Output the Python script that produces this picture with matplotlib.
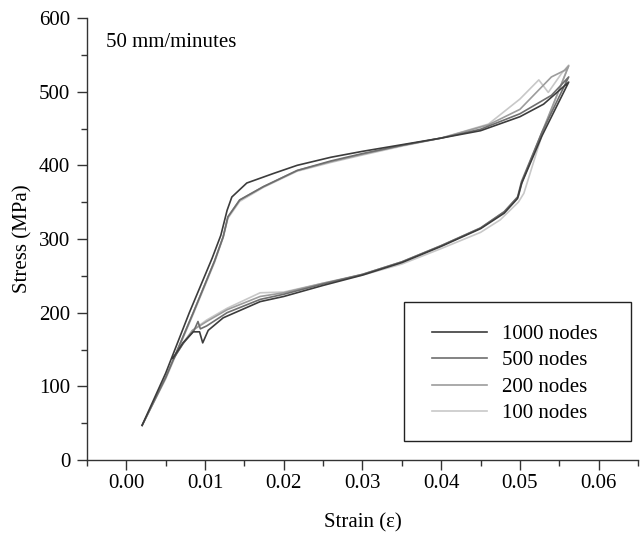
import matplotlib
matplotlib.use('Agg')
import matplotlib.pyplot as plt
from matplotlib.ticker import MultipleLocator, FormatStrFormatter
from matplotlib.patches import Rectangle

plt.rcParams['font.family'] = ['Liberation Serif', 'DejaVu Serif']

labels = ['1000 nodes', '500 nodes', '200 nodes', '100 nodes']
colors = ['#3c3c3c', '#6e6e6e', '#9c9c9c', '#c8c8c8']

# loading + unloading path for each mesh
strain_1000 = [0.0020, 0.0050, 0.0080, 0.0109, 0.0120, 0.0128, 0.0134, 0.0153, 0.0187, 0.0217,
               0.0260, 0.0300, 0.0350, 0.0400, 0.0450, 0.0500, 0.0530, 0.0562,
               0.0528, 0.0502, 0.0497, 0.0480, 0.0450, 0.0400, 0.0350, 0.0300, 0.0250, 0.0200,
               0.0170, 0.0123, 0.0104, 0.0097, 0.0093, 0.0085, 0.0072, 0.0059]
stress_1000 = [47, 118, 200, 274, 305, 339, 357, 376, 389, 400,
               411, 419, 428, 437, 447, 466, 483, 513,
               440, 375, 355, 335, 314, 290, 268, 251, 237, 222,
               215, 193, 176, 159, 174, 174, 159, 138]

strain_500 = [0.0020, 0.0050, 0.0085, 0.0112, 0.0123, 0.0129, 0.0144, 0.0174, 0.0217,
              0.0260, 0.0300, 0.0350, 0.0400, 0.0450, 0.0500, 0.0540, 0.0562,
              0.0528, 0.0502, 0.0497, 0.0480, 0.0450, 0.0400, 0.0350, 0.0300, 0.0250, 0.0200,
              0.0170, 0.0128, 0.0102, 0.0094, 0.0091, 0.0086, 0.0072, 0.0060]
stress_500 = [47, 112, 200, 270, 303, 330, 353, 371, 393,
              406, 416, 427, 437, 449, 470, 495, 520,
              445, 378, 357, 337, 315, 291, 269, 252, 239, 225,
              218, 200, 182, 178, 188, 176, 158, 138]

strain_200 = [0.0020, 0.0050, 0.0085, 0.0112, 0.0123, 0.0129, 0.0144, 0.0174, 0.0217,
              0.0260, 0.0300, 0.0350, 0.0400, 0.0460, 0.0500, 0.0540, 0.0557, 0.0562,
              0.0528, 0.0503, 0.0498, 0.0480, 0.0450, 0.0400, 0.0350, 0.0300, 0.0250, 0.0200,
              0.0170, 0.0128, 0.0102, 0.0084, 0.0072, 0.0060]
stress_200 = [47, 112, 200, 270, 303, 330, 353, 371, 393,
              405, 415, 427, 437, 455, 476, 520, 529, 535,
              445, 378, 358, 337, 315, 291, 269, 252, 240, 227,
              222, 204, 188, 176, 158, 138]

strain_100 = [0.0020, 0.0050, 0.0085, 0.0112, 0.0123, 0.0129, 0.0144, 0.0174, 0.0217,
              0.0260, 0.0300, 0.0350, 0.0400, 0.0460, 0.0500, 0.0524, 0.0536, 0.0553, 0.0562,
              0.0530, 0.0505, 0.0498, 0.0475, 0.0450, 0.0400, 0.0350, 0.0300, 0.0250, 0.0200,
              0.0170, 0.0128, 0.0102, 0.0084, 0.0072, 0.0060]
stress_100 = [47, 110, 198, 268, 302, 328, 351, 370, 392,
              404, 414, 426, 437, 456, 490, 516, 499, 525, 536,
              448, 362, 350, 326, 309, 287, 266, 251, 240, 228,
              227, 206, 190, 176, 159, 138]

series = [(strain_1000, stress_1000), (strain_500, stress_500),
          (strain_200, stress_200), (strain_100, stress_100)]

fig = plt.figure(figsize=(6.42, 5.33), dpi=100)
ax = fig.add_axes([87/642, 73/533, 551/642, 442/533])

# draw lightest first so dark lines sit on top
for (x, y), col, lab in reversed(list(zip(series, colors, labels))):
    ax.plot(x, y, color=col, lw=1.2, label=lab)

ax.set_xlim(-0.005, 0.065)
ax.set_ylim(0, 600)
ax.xaxis.set_major_locator(MultipleLocator(0.01))
ax.xaxis.set_minor_locator(MultipleLocator(0.005))
ax.yaxis.set_major_locator(MultipleLocator(100))
ax.yaxis.set_minor_locator(MultipleLocator(50))
ax.xaxis.set_major_formatter(FormatStrFormatter('%.2f'))

for side in ['top', 'right']:
    ax.spines[side].set_visible(False)
for side in ['left', 'bottom']:
    ax.spines[side].set_color('#333333')
    ax.spines[side].set_linewidth(1.0)
ax.tick_params(which='major', length=7, width=1, color='#333333', labelsize=15)
ax.tick_params(axis='x', which='major', pad=3)
ax.tick_params(axis='y', which='major', pad=5)
ax.tick_params(which='minor', length=4, width=1, color='#333333')

ax.set_xlabel('Strain (\u03b5)', fontsize=15, labelpad=15)
ax.set_ylabel('Stress (MPa)', fontsize=15, labelpad=5)
ax.text(0.035, 0.945, '50 mm/minutes', transform=ax.transAxes, fontsize=15, va='center')

# legend box drawn by hand, entries placed inside without frame
ax.add_patch(Rectangle((0.5753, 0.043), 0.412, 0.3145, transform=ax.transAxes,
                       fill=False, edgecolor='#222222', lw=1.0, clip_on=False, zorder=5))
h, l = ax.get_legend_handles_labels()
leg = ax.legend(h[::-1], l[::-1], loc='upper left', bbox_to_anchor=(0.627, 0.307),
                fontsize=15, frameon=False, borderpad=0, labelspacing=0.33,
                handlelength=2.6, handletextpad=0.75, borderaxespad=0)

fig.savefig('out.png', dpi=100)
